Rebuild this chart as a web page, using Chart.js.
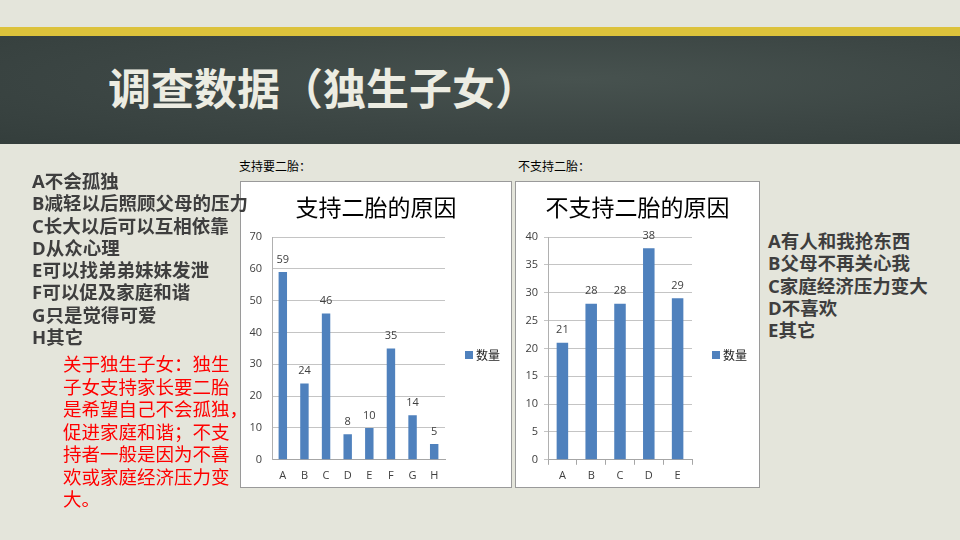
<!DOCTYPE html>
<html>
<head>
<meta charset="utf-8">
<script src="https://cdn.jsdelivr.net/npm/chart.js@4.4.1/dist/chart.umd.min.js"></script>
<style>
  html, body { margin: 0; padding: 0; }
  body { width: 960px; height: 540px; position: relative; overflow: hidden; background: #e4e5db; font-family: "Noto Sans CJK SC", "Noto Sans", sans-serif; }
  #yellow { position: absolute; left: 0; top: 27px; width: 960px; height: 9px; background: #dcc23b; }
  #header { position: absolute; left: 0; top: 36px; width: 960px; height: 108px;
    background: radial-gradient(ellipse at 60% 40%, #47524f 0%, #3c4644 55%, #343e3c 100%); }
  #title { position: absolute; left: 108px; top: 58px; color: #ecece2; font-weight: 700; font-size: 43px; line-height: 56px; font-family: "Noto Sans CJK SC", sans-serif; white-space: nowrap; }
  .lbl { position: absolute; font-size: 12px; color: #000; white-space: nowrap; font-family: "Noto Sans CJK SC", sans-serif; line-height: 14px; }
  .box { position: absolute; background: #fff; border: 1px solid #9a9a9a; }
  .box canvas { display: block; }
  .list { position: absolute; z-index: 5; color: #3e3e3e; font-size: 18.5px; white-space: nowrap; font-family: "Noto Sans CJK SC", sans-serif; }
  .list div { height: 22.3px; line-height: 22.3px; overflow: visible; }
  .list b { font-family: "Open Sans", "Noto Sans", sans-serif; font-weight: 700; line-height: 22.3px; }
  .list span { font-weight: 700; line-height: 22.3px; }
  #note { position: absolute; z-index: 5; left: 63px; top: 352px; color: #ff0000; font-size: 18.5px; font-family: "Noto Sans CJK SC", sans-serif; font-weight: 400; white-space: nowrap; }
  #note div { height: 22.5px; line-height: 22.5px; }
</style>
</head>
<body>
<div id="yellow"></div>
<div id="header"></div>
<div id="title">调查数据（独生子女）</div>

<div class="list" id="leftList" style="left:32px; top:169px;"></div>
<div id="note"><div>关于独生子女：独生</div><div>子女支持家长要二胎</div><div>是希望自己不会孤独，</div><div>促进家庭和谐；不支</div><div>持者一般是因为不喜</div><div>欢或家庭经济压力变</div><div>大。</div></div>

<div class="lbl" style="left:239px; top:159px;">支持要二胎：</div>
<div class="lbl" style="left:518px; top:159px;">不支持二胎：</div>

<div class="box" style="left:240px; top:181px; width:270px; height:305px;"><canvas id="c1" width="270" height="305"></canvas></div>
<div class="box" style="left:515px; top:181px; width:243px; height:305px;"><canvas id="c2" width="243" height="305"></canvas></div>

<div class="list" id="rightList" style="left:768px; top:229px;"></div>

<script>
// ---- data ----
const supportTitle = "支持二胎的原因";
const supportCategories = ["A", "B", "C", "D", "E", "F", "G", "H"];
const supportValues = [59, 24, 46, 8, 10, 35, 14, 5];
const supportTicks = { min: 0, max: 70, step: 10 };
const supportReasons = ["不会孤独", "减轻以后照顾父母的压力", "长大以后可以互相依靠", "从众心理", "可以找弟弟妹妹发泄", "可以促及家庭和谐", "只是觉得可爱", "其它"];

const opposeTitle = "不支持二胎的原因";
const opposeCategories = ["A", "B", "C", "D", "E"];
const opposeValues = [21, 28, 28, 38, 29];
const opposeTicks = { min: 0, max: 40, step: 5 };
const opposeReasons = ["有人和我抢东西", "父母不再关心我", "家庭经济压力变大", "不喜欢", "其它"];

const seriesName = "数量";

// ---- text lists ----
function fillList(id, cats, reasons) {
  const el = document.getElementById(id);
  el.innerHTML = cats.map((c, i) => '<div><b>' + c + '</b><span>' + reasons[i] + '</span></div>').join('');
}
fillList('leftList', supportCategories, supportReasons);
fillList('rightList', opposeCategories, opposeReasons);

// ---- charts ----
const barColor = '#4f81bd';
const gridColor = '#c4c4c4';
const tickFont = { family: "'Open Sans', 'Liberation Sans', sans-serif", size: 11 };

const valueLabels = {
  id: 'valueLabels',
  afterDatasetsDraw(chart) {
    const ctx = chart.ctx;
    const meta = chart.getDatasetMeta(0);
    ctx.save();
    ctx.fillStyle = '#404040';
    ctx.font = "11px 'Open Sans', 'Liberation Sans', sans-serif";
    ctx.textAlign = 'center';
    ctx.textBaseline = 'bottom';
    meta.data.forEach((bar, i) => {
      ctx.fillText(String(chart.data.datasets[0].data[i]), bar.x, bar.y - 7);
    });
    ctx.restore();
  }
};

// title centred on the whole chart box, legend at the right of the plot
const boxDecor = {
  id: 'boxDecor',
  afterDraw(chart, args, opts) {
    const ctx = chart.ctx;
    ctx.save();
    ctx.fillStyle = '#000';
    ctx.font = "23px 'Noto Sans CJK SC', sans-serif";
    ctx.textAlign = 'center';
    ctx.textBaseline = 'middle';
    ctx.fillText(opts.title, chart.width / 2, 25);
    const x = chart.chartArea.right + 20;
    const y = opts.legendY;
    ctx.fillStyle = barColor;
    ctx.fillRect(x, y - 4, 8, 8);
    ctx.fillStyle = '#222';
    ctx.font = "12px 'Noto Sans CJK SC', sans-serif";
    ctx.textAlign = 'left';
    ctx.fillText(chart.data.datasets[0].label, x + 11, y);
    ctx.restore();
  }
};

function makeChart(id, title, cats, vals, ticks, barPct, yWidth, tickLen, xTicks, padRight) {
  return new Chart(document.getElementById(id), {
    type: 'bar',
    data: { labels: cats, datasets: [{ label: seriesName, data: vals, backgroundColor: barColor, borderWidth: 0, categoryPercentage: 1, barPercentage: barPct }] },
    options: {
      responsive: false,
      animation: false,
      layout: { padding: { left: 0, right: padRight, top: 55, bottom: 1 } },
      plugins: {
        title: { display: false },
        legend: { display: false },
        boxDecor: { title: title, legendY: 173 },
        tooltip: { enabled: false }
      },
      scales: {
        x: {
          grid: { display: xTicks, drawOnChartArea: false, drawTicks: true, tickLength: 5, color: '#a6a6a6' },
          border: { display: true, color: '#a6a6a6' },
          ticks: { color: '#404040', font: tickFont, padding: 4 }
        },
        y: {
          min: ticks.min, max: ticks.max,
          afterFit(scale) { scale.width = yWidth; },
          grid: { color: gridColor, drawTicks: tickLen > 0, tickLength: tickLen },
          border: { display: true, color: '#b0b0b0' },
          ticks: { stepSize: ticks.step, color: '#404040', font: tickFont, padding: tickLen > 0 ? 6 : 10 }
        }
      }
    },
    plugins: [valueLabels, boxDecor]
  });
}

makeChart('c1', supportTitle, supportCategories, supportValues, supportTicks, 0.39, 31, 0, false, 66);
makeChart('c2', opposeTitle, opposeCategories, opposeValues, opposeTicks, 0.4, 32, 4, true, 67);
</script>
</body>
</html>
